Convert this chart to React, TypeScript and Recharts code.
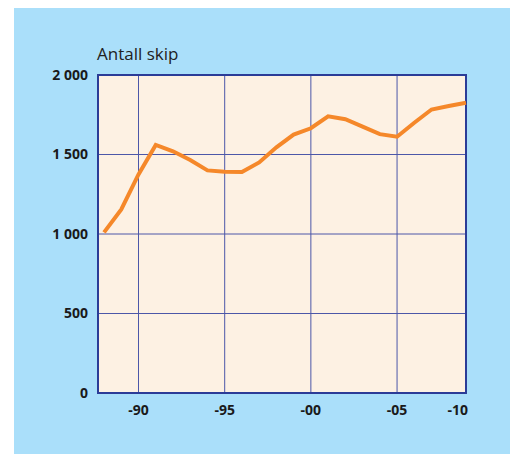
import React from 'react';
import { LineChart, Line, XAxis, YAxis, CartesianGrid, ReferenceArea } from 'recharts';

const years = [1988, 1989, 1990, 1991, 1992, 1993, 1994, 1995, 1996, 1997, 1998, 1999, 2000, 2001, 2002, 2003, 2004, 2005, 2006, 2007, 2008, 2009];
const ships = [1010, 1155, 1375, 1560, 1520, 1465, 1400, 1392, 1390, 1450, 1545, 1625, 1665, 1740, 1722, 1675, 1628, 1612, 1700, 1783, 1805, 1825];

const xTicks = [1990, 1995, 2000, 2005, 2009];
const xTickLabels = ['-90', '-95', '-00', '-05', '-10'];
const yTicks = [0, 500, 1000, 1500, 2000];
const yTickLabels = ['0', '500', '1 000', '1 500', '2 000'];

const X_MIN = 1987.65;
const X_MAX = 2009;

const FONT = '"Open Sans", "Noto Sans", sans-serif';
const NAVY = '#2b3c97';

const chartData = years.map((year, i) => ({ year, ships: ships[i] }));

const XTick = (props: any) => {
  const { x, y, payload } = props;
  const i = xTicks.indexOf(payload.value);
  const last = i === xTicks.length - 1;
  return (
    <text
      x={last ? x + 2 : x}
      y={y}
      dy="0.71em"
      textAnchor={last ? 'end' : 'middle'}
      fill="#1a1a1a"
      fontFamily={FONT}
      fontWeight={700}
      fontSize={14}
    >
      {xTickLabels[i]}
    </text>
  );
};

const App: React.FC = () => {
  return (
    <div style={{ position: 'absolute', left: 0, top: 0, width: 510, height: 454, background: '#fff' }}>
      <div style={{ position: 'absolute', left: 14, top: 8, width: 496, height: 446, background: '#aadffa' }}>
        <div
          style={{
            position: 'absolute',
            left: 83,
            top: 37,
            fontFamily: FONT,
            fontSize: 17,
            lineHeight: '17px',
            color: '#222',
            whiteSpace: 'nowrap',
          }}
        >
          Antall skip
        </div>
        <LineChart width={496} height={446} data={chartData} margin={{ top: 67, right: 44, left: 0, bottom: 31 }}>
          <CartesianGrid fill="#fdf1e3" stroke="#4c57a8" strokeWidth={1} />
          <XAxis
            dataKey="year"
            type="number"
            domain={[X_MIN, X_MAX]}
            ticks={xTicks}
            height={30}
            axisLine={false}
            tickLine={false}
            tickSize={0}
            tickMargin={12}
            tick={<XTick />}
            interval={0}
          />
          <YAxis
            type="number"
            domain={[0, 2000]}
            ticks={yTicks}
            width={84}
            axisLine={false}
            tickLine={false}
            tickSize={0}
            tickMargin={10}
            interval={0}
            tickFormatter={(v: number) => yTickLabels[yTicks.indexOf(v)]}
            tick={{ fill: '#1a1a1a', fontFamily: FONT, fontWeight: 700, fontSize: 14 }}
          />
          <ReferenceArea x1={X_MIN} x2={X_MAX} y1={0} y2={2000} fill="none" stroke={NAVY} strokeWidth={2} />
          <Line
            type="linear"
            dataKey="ships"
            stroke="#f5882a"
            strokeWidth={4}
            dot={false}
            activeDot={false}
            isAnimationActive={false}
          />
        </LineChart>
      </div>
    </div>
  );
};

export default App;
